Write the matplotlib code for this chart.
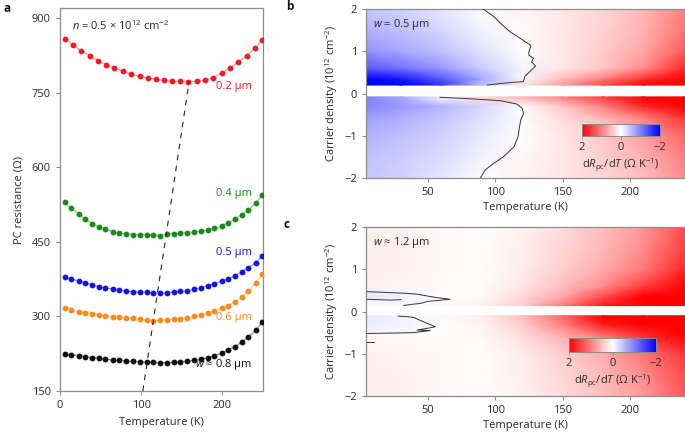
import numpy as np
import matplotlib
matplotlib.use("Agg")
import matplotlib.pyplot as plt

plt.rcParams['font.family'] = ['Open Sans', 'DejaVu Sans']
plt.rcParams['font.size'] = 8
plt.rcParams['mathtext.fontset'] = 'custom'
plt.rcParams['mathtext.rm'] = 'Open Sans'
plt.rcParams['mathtext.it'] = 'Open Sans:italic'
plt.rcParams['mathtext.bf'] = 'Open Sans:bold'

# ---- panel a: PC resistance vs temperature ----
T_red = [6, 16, 26, 37, 47, 57, 67, 77, 87, 98, 108, 118, 128, 138, 148, 158,
         169, 179, 189, 199, 209, 219, 230, 240, 249]
R_02 = [858, 847, 835, 824.5, 815, 807, 800, 794, 788, 783.6, 780, 777.5, 775.5,
        774, 773.5, 773, 773.5, 775.5, 781, 790, 800, 812, 825, 840, 857]

T_all = [6, 14, 23, 31, 40, 48, 56, 65, 73, 81, 90, 98, 107, 115, 123, 132, 140,
         148, 157, 165, 174, 182, 190, 199, 207, 215, 224, 232, 241, 249]
R_04 = [530, 518, 506, 496, 487, 480, 475.5, 471, 467.5, 465.5, 465, 465, 464, 464,
        463, 465.5, 467, 467.5, 469, 470, 472, 474, 477.5, 482, 488, 496, 505, 515,
        528, 545]
R_05 = [379, 375, 371.5, 367.5, 363.4, 360, 357.4, 355.4, 353.4, 351.4, 350, 349.3,
        348.7, 348, 346.7, 348, 349.3, 350.7, 352, 354.7, 358, 362, 366, 371, 376,
        382, 390, 398, 408, 422]
R_06 = [316.5, 313, 309.7, 307.7, 305.7, 303.7, 301, 299.7, 298.3, 297.7, 296.3,
        294.3, 293, 291.6, 292.3, 293, 294.3, 295.7, 297.7, 300.3, 303.7, 307, 311,
        316.5, 322, 329, 339, 352, 367, 385]
R_08 = [224, 223, 221, 219, 217, 216, 214, 212.5, 211.5, 210.5, 209.5, 209, 208,
        207.5, 207, 207, 207.5, 208.5, 210, 211.5, 214, 217, 221, 226, 232, 239, 248,
        259, 272, 288]

curve_labels = ['0.2 µm', '0.4 µm', '0.5 µm', '0.6 µm', r'$w$ ≈ 0.8 µm']
curve_label_R = [762, 547, 429, 298, 204]
curve_colors = ['#ee1c25', '#1b8a1b', '#1414e0', '#ff8a1c', '#111111']

dash_T = [102, 159]
dash_R = [150, 773]

# ---- panels b, c: dR/dT maps ----
T_grid = [4, 30, 60, 90, 120, 150, 180, 210, 241]

b_n_up = [0.2, 0.35, 0.6, 1.0, 1.5, 2.0]
b_up = [[-2.3, -2.1, -1.6, -0.5, 0.2, 0.8, 1.4, 2.1, 2.6],
        [-2.0, -1.8, -1.3, -0.7, -0.05, 0.5, 1.0, 1.6, 2.3],
        [-1.3, -1.1, -0.8, -0.4, -0.08, 0.2, 0.45, 0.9, 1.7],
        [-0.85, -0.7, -0.5, -0.22, 0.0, 0.18, 0.4, 0.7, 1.3],
        [-0.6, -0.5, -0.32, -0.1, 0.04, 0.18, 0.35, 0.6, 1.1],
        [-0.45, -0.35, -0.2, 0.0, 0.08, 0.18, 0.32, 0.55, 1.0]]
b_n_low = [-2.0, -1.5, -1.0, -0.6, -0.3, -0.08]
b_low = [[-0.45, -0.35, -0.2, 0.0, 0.1, 0.2, 0.32, 0.5, 0.9],
         [-0.5, -0.4, -0.27, -0.1, 0.05, 0.2, 0.38, 0.6, 1.0],
         [-0.6, -0.5, -0.36, -0.17, 0.0, 0.2, 0.42, 0.75, 1.2],
         [-0.75, -0.62, -0.45, -0.25, -0.02, 0.25, 0.55, 0.95, 1.6],
         [-0.95, -0.8, -0.58, -0.32, 0.0, 0.45, 1.0, 1.7, 2.5],
         [-1.0, -0.7, -0.05, 0.3, 0.6, 1.0, 1.5, 2.0, 2.6]]

c_n_up = [0.14, 0.35, 0.6, 1.0, 1.5, 2.0]
c_up = [[0.05, 0.05, 0.05, 0.1, 0.4, 1.0, 1.8, 2.5, 3.0],
        [-0.2, -0.12, 0.0, 0.05, 0.3, 0.7, 1.4, 2.2, 2.8],
        [0.1, 0.08, 0.04, 0.03, 0.2, 0.5, 0.9, 1.5, 2.2],
        [0.14, 0.11, 0.06, 0.02, 0.15, 0.38, 0.65, 1.05, 1.7],
        [0.14, 0.11, 0.06, 0.02, 0.13, 0.32, 0.55, 0.9, 1.5],
        [0.14, 0.11, 0.06, 0.02, 0.12, 0.28, 0.5, 0.8, 1.4]]
c_n_low = [-2.0, -1.5, -1.0, -0.6, -0.3, -0.1]
c_low = [[0.14, 0.11, 0.06, 0.02, 0.12, 0.28, 0.5, 0.8, 1.3],
         [0.14, 0.11, 0.05, 0.02, 0.13, 0.32, 0.55, 0.9, 1.4],
         [0.12, 0.09, 0.05, 0.03, 0.15, 0.38, 0.65, 1.05, 1.6],
         [0.05, 0.05, 0.04, 0.05, 0.25, 0.6, 1.0, 1.6, 2.2],
         [-0.15, -0.1, 0.0, 0.08, 0.4, 1.0, 1.8, 2.5, 3.0],
         [-0.2, -0.08, 0.05, 0.15, 0.5, 1.2, 2.0, 2.6, 3.0]]

# zero contours
b_zero_up_T = [91, 99, 104, 111, 117, 122, 126, 126.5, 125, 125, 128.4, 127, 130,
               127, 122, 121, 111, 94]
b_zero_up_n = [2.0, 1.82, 1.66, 1.46, 1.34, 1.23, 1.15, 1.11, 0.99, 0.91, 0.83, 0.75,
               0.65, 0.56, 0.40, 0.28, 0.26, 0.20]
b_zero_low_T = [59, 79, 104, 116, 120, 121, 119, 118, 117, 114, 106, 99, 92.5, 89]
b_zero_low_n = [-0.09, -0.12, -0.17, -0.25, -0.35, -0.47, -0.63, -0.79, -1.02,
                -1.26, -1.50, -1.65, -1.81, -2.0]
c_zero_1_T = [4.7, 20, 34, 42, 49, 56, 61.6, 66.6, 56.7, 50, 44.3, 38, 31.9]
c_zero_1_n = [0.47, 0.45, 0.43, 0.41, 0.37, 0.33, 0.31, 0.29, 0.26, 0.24, 0.19, 0.17, 0.14]
c_zero_2_T = [4.7, 22, 30]
c_zero_2_n = [0.29, 0.27, 0.28]
c_zero_3_T = [28, 34, 39.3, 45, 49.3, 55.5, 49.3, 41.9, 51.7, 39.3, 25, 4.7]
c_zero_3_n = [-0.11, -0.12, -0.14, -0.22, -0.28, -0.36, -0.40, -0.44, -0.45, -0.50,
              -0.51, -0.52]
c_zero_4_T = [4.7, 9.7]
c_zero_4_n = [-0.73, -0.73]

W, H = 685, 437
spine_c = '#8c8c8c'
text_c = '#2a2a2a'


def style(ax):
    for s in ax.spines.values():
        s.set_color(spine_c)
        s.set_linewidth(0.9)
    ax.tick_params(colors=spine_c, labelcolor=text_c, length=3, width=0.8,
                   labelsize=8, direction='out')


fig = plt.figure(figsize=(W / 100, H / 100), dpi=100)

# panel a
ax = fig.add_axes([60 / W, 46 / H, 203 / W, 383 / H])
style(ax)
series = [(T_red, R_02), (T_all, R_04), (T_all, R_05), (T_all, R_06), (T_all, R_08)]
for (tt, rr), col in zip(series, curve_colors):
    ax.plot(tt, rr, color=col, lw=0.9, alpha=0.45, zorder=2)
    ax.plot(tt, rr, 'o', color=col, ms=4.2, mec='none', zorder=3)
ax.plot(dash_T, dash_R, color='#222222', lw=0.8, ls=(0, (5, 5)), zorder=4)
for lab, ry, col in zip(curve_labels, curve_label_R, curve_colors):
    ax.text(237, ry, lab, color=col, ha='right', va='center', fontsize=8, zorder=5)
ax.text(15, 884, r'$n$ = 0.5 × 10$^{12}$ cm$^{-2}$', color=text_c, va='center',
        fontsize=8)
ax.set_xlim(0, 250)
ax.set_ylim(150, 921)
ax.set_xticks([0, 100, 200])
ax.set_yticks([150, 300, 450, 600, 750, 900])
ax.set_xlabel('Temperature (K)', color=text_c, fontsize=8, labelpad=4)
ax.set_ylabel('PC resistance (Ω)', color=text_c, fontsize=8, labelpad=5)


def heat_panel(rect, n_up, z_up, n_low, z_low, lines, wlabel, cbar_rect):
    ax = fig.add_axes(rect)
    style(ax)
    mesh = ax.pcolormesh(T_grid, n_up, np.array(z_up), shading='gouraud',
                         cmap='bwr', vmin=-2, vmax=2, zorder=1)
    ax.pcolormesh(T_grid, n_low, np.array(z_low), shading='gouraud',
                  cmap='bwr', vmin=-2, vmax=2, zorder=1)
    for tt, nn in lines:
        ax.plot(tt, nn, color='#333333', lw=0.7, zorder=3)
    ax.text(9.5, 1.63, wlabel, color=text_c, va='center', fontsize=8)
    ax.set_xlim(4, 241)
    ax.set_ylim(-2, 2)
    ax.set_xticks([50, 100, 150, 200])
    ax.set_yticks([-2, -1, 0, 1, 2])
    ax.set_yticklabels(['−2', '−1', '0', '1', '2'])
    ax.set_xlabel('Temperature (K)', color=text_c, fontsize=8, labelpad=3)
    ax.set_ylabel(r'Carrier density (10$^{12}$ cm$^{-2}$)', color=text_c,
                  fontsize=8, labelpad=3)
    cax = fig.add_axes(cbar_rect)
    cb = fig.colorbar(mesh, cax=cax, orientation='horizontal')
    cax.invert_xaxis()
    cb.set_ticks([2, 0, -2])
    cb.set_ticklabels(['2', '0', '−2'])
    cb.outline.set_edgecolor(spine_c)
    cb.outline.set_linewidth(0.7)
    cax.tick_params(length=2, width=0.6, colors=spine_c, labelcolor=text_c,
                    labelsize=8, pad=2)
    cb.set_label(r'd$R_{\rm pc}$/d$T$ (Ω K$^{-1}$)', color=text_c, fontsize=8,
                 labelpad=3)
    return ax


heat_panel([366 / W, (H - 178) / H, 319 / W, 169 / H], b_n_up, b_up, b_n_low, b_low,
           [(b_zero_up_T, b_zero_up_n), (b_zero_low_T, b_zero_low_n)],
           r'$w$ = 0.5 µm', [582 / W, (H - 136) / H, 78 / W, 12 / H])
heat_panel([366 / W, (H - 396) / H, 319 / W, 169 / H], c_n_up, c_up, c_n_low, c_low,
           [(c_zero_1_T, c_zero_1_n), (c_zero_2_T, c_zero_2_n),
            (c_zero_3_T, c_zero_3_n), (c_zero_4_T, c_zero_4_n)],
           r'$w$ ≈ 1.2 µm', [569 / W, (H - 352) / H, 87 / W, 14 / H])

for lab, x, y in [('a', 3, 8), ('b', 286, 7), ('c', 284, 225)]:
    fig.text(x / W, 1 - y / H, lab, fontsize=8.5, fontweight='bold', color='#111111',
             ha='left', va='center')

fig.savefig('out.png', dpi=100)
